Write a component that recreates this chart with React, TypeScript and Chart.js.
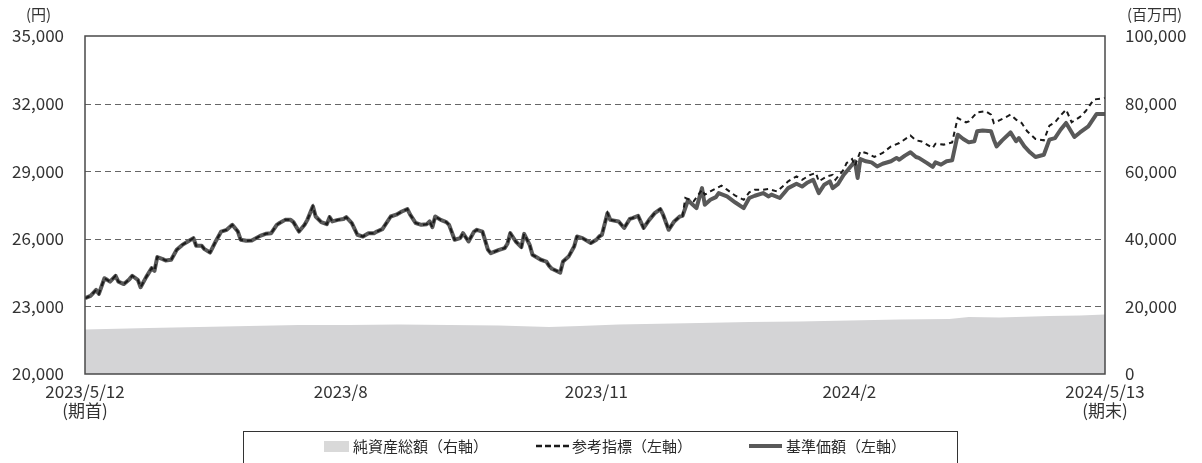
import React, { useEffect, useRef } from 'react';
import { Chart, registerables } from 'chart.js';

Chart.register(...registerables);

const FONT = '"Noto Sans CJK JP", "Noto Sans", sans-serif';

// trading-calendar position (days from 2023/5/12) for each series point
const navDays = [0,2,4,5,7,8,9,11,12,14,16,17,19,20,22,24,25,26,28,29,31,33,35,37,39,40,42,43,45,47,49,51,53,55,56,58,60,63,65,67,69,70,72,74,75,77,79,80,82,83,85,87,88,89,91,93,94,96,98,100,102,104,105,107,110,112,114,116,117,119,121,123,124,125,126,128,130,131,133,135,136,138,140,141,143,145,146,149,151,152,153,155,157,158,160,161,164,166,167,168,171,172,174,176,177,179,182,184,185,186,188,189,192,194,196,197,199,201,203,205,207,208,210,212,214,215,217,218,220,222,223,225,227,228,231,234,237,239,241,244,246,247,250,252,253,256,258,260,262,264,266,268,269,271,273,274,276,277,278,279,281,283,285,287,290,292,293,295,297,299,300,303,305,306,308,310,312,314,316,318,320,321,323,326,327,328,330,333,335,336,338,340,342,345,347,349,351,353,356,358,361,364,367];

// 基準価額 (円)
const navValues = [23360,23470,23730,23560,24250,24180,24100,24360,24100,23990,24210,24360,24180,23850,24300,24700,24580,25190,25100,25040,25070,25510,25730,25880,26030,25690,25690,25540,25390,25880,26320,26400,26620,26320,25960,25910,25920,26130,26220,26250,26620,26700,26840,26840,26740,26320,26620,26840,27440,26990,26740,26650,26960,26770,26840,26880,26960,26700,26180,26100,26250,26250,26320,26430,26990,27070,27210,27320,27070,26700,26620,26650,26770,26520,26990,26840,26740,26620,25960,26030,26250,25880,26320,26400,26320,25510,25360,25510,25590,25780,26250,25880,25630,26220,25730,25290,25070,24990,24800,24670,24500,24990,25210,25660,26100,26030,25810,25960,26100,26180,27140,26840,26770,26480,26880,26920,27020,26480,26840,27140,27320,27070,26400,26770,26990,27020,27730,27590,27360,28250,27510,27730,27850,28030,27880,27610,27360,27810,27910,28030,27880,27960,27810,28100,28250,28440,28320,28500,28620,28030,28400,28550,28250,28440,28840,28990,29290,29440,28700,29540,29440,29390,29210,29330,29440,29590,29510,29690,29840,29630,29590,29360,29190,29390,29290,29440,29480,30620,30430,30280,30330,30770,30810,30770,30400,30100,30370,30720,30330,30470,30100,29840,29630,29730,30400,30470,30840,31140,30520,30720,30990,31540,31540];

// 参考指標 (円): follows the fund until ~day 215, then these points
const bmSplitDay = 215;
const bmLateDays = [216,219,222,223,225,229,231,234,237,239,241,244,246,249,251,253,256,258,261,263,264,267,269,270,273,274,276,277,279,281,284,287,290,293,297,299,301,305,306,309,312,314,317,318,321,324,326,327,329,332,333,335,337,339,342,345,347,349,351,353,355,358,360,363,367];
const bmLateValues = [27810,27660,28180,27960,28100,28360,28180,27910,27730,28060,28180,28180,28210,28100,28320,28550,28770,28620,28840,28920,28550,28770,28840,28620,29070,29360,29540,29240,29880,29810,29630,29810,30100,30250,30580,30370,30320,30030,30220,30180,30280,31360,31170,31210,31610,31660,31510,31140,31260,31440,31510,31290,31140,30770,30430,30370,31020,31170,31470,31730,31170,31410,31660,32180,32250];

// 純資産総額 (百万円)
const assetDays = [0,23,41,59,77,95,113,131,149,167,178,192,221,239,257,275,293,311,318,329,347,358,367];
const assetValues = [13190,13630,13930,14220,14520,14520,14670,14520,14370,13930,14220,14670,15110,15410,15560,15850,16150,16300,16890,16740,17190,17330,17630];

const xTickDays = [0, 92, 184, 275, 367];
const xTickLabels: string[][] = [['2023/5/12', '(期首)'], ['2023/8'], ['2023/11'], ['2024/2'], ['2024/5/13', '(期末)']];
const leftTicks = [20000, 23000, 26000, 29000, 32000, 35000];
const rightTicks = [0, 20000, 40000, 60000, 80000, 100000];
const gridValues = [23000, 26000, 29000, 32000];

const frame = {
  id: 'frame',
  beforeDatasetsDraw(chart: any) {
    const { ctx, chartArea } = chart;
    const y = chart.scales.y;
    ctx.save();
    ctx.strokeStyle = '#666';
    ctx.lineWidth = 1;
    ctx.setLineDash([6, 4]);
    for (const v of gridValues) {
      const py = Math.round(y.getPixelForValue(v)) + 0.5;
      ctx.beginPath();
      ctx.moveTo(chartArea.left, py);
      ctx.lineTo(chartArea.right, py);
      ctx.stroke();
    }
    ctx.restore();
  },
  afterDatasetsDraw(chart: any) {
    const { ctx, chartArea } = chart;
    ctx.save();
    ctx.strokeStyle = '#4a4a4a';
    ctx.lineWidth = 1.5;
    ctx.strokeRect(chartArea.left, chartArea.top, chartArea.right - chartArea.left, chartArea.bottom - chartArea.top);
    ctx.restore();
  },
};

export default function App() {
  const ref = useRef<HTMLCanvasElement | null>(null);

  useEffect(() => {
    document.body.style.margin = '0';
    const canvas = ref.current;
    if (!canvas) return;
    const bmDays = navDays.filter((d) => d <= bmSplitDay).concat(bmLateDays);
    const bmValues = navValues.filter((_, i) => navDays[i] <= bmSplitDay).concat(bmLateValues);
    const tickFont = { family: FONT, size: 17, lineHeight: 1.1 };

    const chart = new Chart(canvas, {
      type: 'line',
      data: {
        datasets: [
          {
            label: '参考指標（左軸）',
            data: bmDays.map((d, i) => ({ x: d, y: bmValues[i] })),
            yAxisID: 'y',
            borderColor: '#1a1a1a',
            borderWidth: 2,
            borderDash: [5, 4],
            pointRadius: 0,
            tension: 0,
            fill: false,
            order: 1,
          },
          {
            label: '基準価額（左軸）',
            data: navDays.map((d, i) => ({ x: d, y: navValues[i] })),
            yAxisID: 'y',
            borderColor: '#595959',
            borderWidth: 4,
            borderJoinStyle: 'round',
            pointRadius: 0,
            tension: 0,
            fill: false,
            order: 2,
          },
          {
            label: '純資産総額（右軸）',
            data: assetDays.map((d, i) => ({ x: d, y: assetValues[i] })),
            yAxisID: 'y2',
            borderWidth: 0,
            borderColor: 'rgba(0,0,0,0)',
            backgroundColor: '#d4d4d6',
            pointRadius: 0,
            tension: 0,
            fill: 'start',
            order: 3,
          },
        ],
      } as any,
      options: {
        responsive: false,
        animation: false,
        layout: { padding: { top: 36, left: 0, right: 0, bottom: 0 } },
        plugins: { legend: { display: false }, tooltip: { enabled: false } },
        scales: {
          x: {
            type: 'linear',
            min: 0,
            max: 367,
            grid: { display: false, drawTicks: false },
            border: { display: false },
            afterBuildTicks: (s: any) => {
              s.ticks = xTickDays.map((v) => ({ value: v }));
            },
            afterFit: (s: any) => {
              s.height = 89;
            },
            ticks: {
              autoSkip: false,
              maxRotation: 0,
              minRotation: 0,
              padding: 8,
              color: '#333',
              font: tickFont,
              callback: (v: any) => {
                const i = xTickDays.indexOf(Number(v));
                return i >= 0 ? xTickLabels[i] : '';
              },
            },
          },
          y: {
            position: 'left',
            min: 20000,
            max: 35000,
            grid: { display: false, drawTicks: false },
            border: { display: false },
            afterBuildTicks: (s: any) => {
              s.ticks = leftTicks.map((v) => ({ value: v }));
            },
            afterFit: (s: any) => {
              s.width = 85;
            },
            ticks: {
              padding: 21,
              color: '#333',
              font: tickFont,
              callback: (v: any) => Number(v).toLocaleString('en-US'),
            },
          },
          y2: {
            position: 'right',
            min: 0,
            max: 100000,
            grid: { display: false, drawTicks: false },
            border: { display: false },
            afterBuildTicks: (s: any) => {
              s.ticks = rightTicks.map((v) => ({ value: v }));
            },
            afterFit: (s: any) => {
              s.width = 97;
            },
            ticks: {
              padding: 20,
              color: '#333',
              font: tickFont,
              callback: (v: any) => Number(v).toLocaleString('en-US'),
            },
          },
        },
      } as any,
      plugins: [frame],
    });
    return () => chart.destroy();
  }, []);

  const unitStyle: React.CSSProperties = {
    position: 'absolute',
    top: 4,
    fontFamily: FONT,
    fontSize: 15,
    color: '#333',
    lineHeight: '20px',
    whiteSpace: 'nowrap',
  };
  const legendText: React.CSSProperties = {
    position: 'absolute',
    top: 4,
    fontFamily: FONT,
    fontSize: 15,
    color: '#2a2a2a',
    lineHeight: '20px',
    whiteSpace: 'nowrap',
  };

  return (
    <div style={{ position: 'relative', width: 1202, height: 463, overflow: 'hidden', background: '#fff' }}>
      <canvas ref={ref} width={1202} height={463} style={{ position: 'absolute', left: 0, top: 0, width: 1202, height: 463 }} />
      <span style={{ ...unitStyle, left: 26 }}>(円)</span>
      <span style={{ ...unitStyle, left: 1127 }}>(百万円)</span>
      <div
        style={{
          position: 'absolute',
          left: 243,
          top: 431,
          width: 715,
          height: 50,
          border: '1px solid #333',
          boxSizing: 'border-box',
        }}
      >
        <div style={{ position: 'absolute', left: 80, top: 9, width: 25, height: 11, background: '#d9d9d9' }} />
        <span style={{ ...legendText, left: 109 }}>純資産総額（右軸）</span>
        <svg style={{ position: 'absolute', left: 292, top: 8 }} width={34} height={12}>
          <line x1={0} y1={6} x2={34} y2={6} stroke="#1a1a1a" strokeWidth={2.5} strokeDasharray="6 3" />
        </svg>
        <span style={{ ...legendText, left: 328 }}>参考指標（左軸）</span>
        <div style={{ position: 'absolute', left: 505, top: 12, width: 33, height: 4, background: '#595959' }} />
        <span style={{ ...legendText, left: 542 }}>基準価額（左軸）</span>
      </div>
    </div>
  );
}
